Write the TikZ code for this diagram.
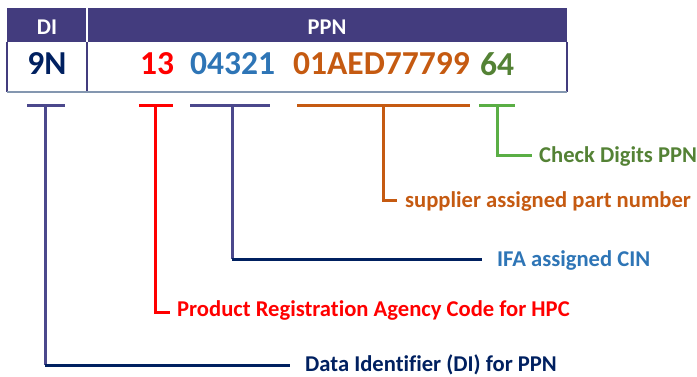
\documentclass[tikz,border=0pt]{standalone}
\usepackage{fontspec}
\setmainfont{Carlito}[Ligatures=NoCommon]
\definecolor{hdr}{RGB}{67,60,126}
\definecolor{brk}{RGB}{75,72,140}
\definecolor{navy}{RGB}{0,32,96}
\definecolor{frm}{RGB}{132,151,176}
\definecolor{cred}{RGB}{255,0,0}
\definecolor{cblue}{RGB}{46,117,182}
\definecolor{corange}{RGB}{197,90,17}
\definecolor{cgreen}{RGB}{84,130,53}
\definecolor{lgreen}{RGB}{90,174,69}
\tikzset{
  hdrtxt/.style={text=white,font=\bfseries\fontsize{22.5}{24}\selectfont,inner sep=0pt},
  celltxt/.style={font=\bfseries\fontsize{33.5}{36}\selectfont,inner sep=0pt,anchor=west},
  lbl/.style={font=\bfseries\fontsize{22.6}{24}\selectfont,inner sep=0pt,anchor=base west},
  bar/.style={line width=3pt},
}
\begin{document}
\begin{tikzpicture}[x=1pt,y=-1pt]
\useasboundingbox (0,0) rectangle (697,376);
% table
\fill[hdr] (7,8) rectangle (567,42);
\draw[hdr,line width=1.5pt] (7,42) -- (7,92) (567,42) -- (567,92) (87,42) -- (87,92);
\draw[white,line width=1.5pt] (87,8) -- (87,42);
\draw[frm,line width=1.5pt] (7,92) -- (567,92);
\node[hdrtxt] (hdi) at (47,27) {DI};
\node[hdrtxt] (hppn) at (327,27) {PPN};
\node[celltxt,anchor=center,text=navy] (v9n) at (47,64) {9N};
\node[celltxt,text=cred] (v13) at (140,64) {13};
\node[celltxt,text=cblue] (v04) at (190,64) {04321};
\node[celltxt,text=corange] (v01) at (293,64) {01AED77799};
\node[celltxt,text=cgreen] (v64) at (480,64) {64};
% labels
\node[lbl,text=cgreen] (lchk) at (539,162) {Check Digits PPN};
\node[lbl,text=corange] (lsup) at (405,207) {supplier assigned part number};
\node[lbl,text=cblue] (lifa) at (497,266) {IFA assigned CIN};
\node[lbl,text=cred] (lprc) at (177,316) {Product Registration Agency Code for HPC};
\node[lbl,text=navy] (ldi) at (305,371) {Data Identifier (DI) for PPN};
% bracket coordinates
\coordinate (a1) at (27,105); \coordinate (a2) at (65,105); \coordinate (am) at (45,105); \coordinate (ae) at (290,365);
\coordinate (b1) at (139,105); \coordinate (b2) at (173,105); \coordinate (bm) at (155,105); \coordinate (be) at (170,312);
\coordinate (c1) at (190,105); \coordinate (c2) at (270,105); \coordinate (cm) at (232,105); \coordinate (ce) at (482,259);
\coordinate (d1) at (297,105); \coordinate (d2) at (470,105); \coordinate (dm) at (383,105); \coordinate (de) at (397,200);
\coordinate (e1) at (479,105); \coordinate (e2) at (515,105); \coordinate (em) at (497,105); \coordinate (ee) at (532,155);
% brackets
\draw[bar,brk] (a1) -- (a2);
\draw[bar,brk] (am) -- (am |- ae);
\draw[bar,navy] (am |- ae) -- (ae);
\draw[bar,cred] (b1) -- (b2);
\draw[bar,cred] (bm) |- (be);
\draw[bar,brk] (c1) -- (c2);
\draw[bar,brk] (cm) -- (cm |- ce);
\draw[bar,navy] (cm |- ce) -- (ce);
\draw[bar,corange] (d1) -- (d2);
\draw[bar,corange] (dm) |- (de);
\draw[bar,lgreen] (e1) -- (e2);
\draw[bar,lgreen] (em) |- (ee);
\end{tikzpicture}
\end{document}
